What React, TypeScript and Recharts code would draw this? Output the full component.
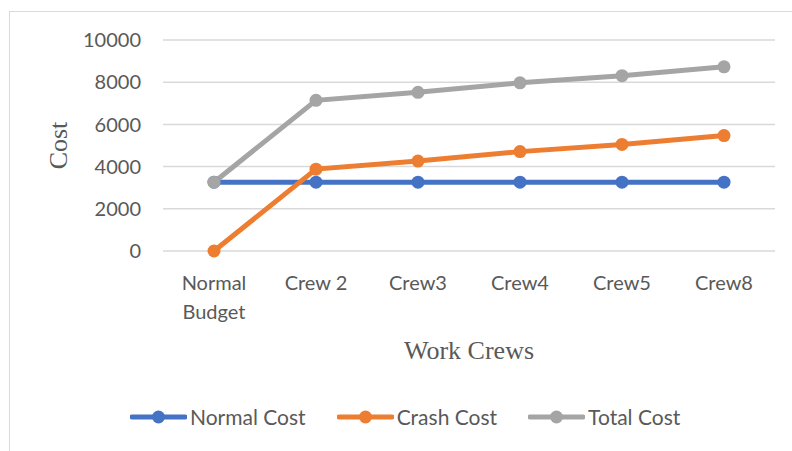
import { CartesianGrid, Label, Legend, Line, LineChart, XAxis, YAxis } from 'recharts';

const CATEGORIES = ['Normal\nBudget', 'Crew 2', 'Crew3', 'Crew4', 'Crew5', 'Crew8'];
const NORMAL_COST = [3260, 3260, 3260, 3260, 3260, 3260];
const CRASH_COST = [0, 3880, 4260, 4710, 5050, 5470];
const TOTAL_COST = [3260, 7140, 7520, 7970, 8310, 8730];
const Y_TICKS = [0, 2000, 4000, 6000, 8000, 10000];

const SERIES = [
  { key: 'normal', name: 'Normal Cost', color: '#4472C4' },
  { key: 'crash', name: 'Crash Cost', color: '#ED7D31' },
  { key: 'total', name: 'Total Cost', color: '#A5A5A5' },
];

const data = CATEGORIES.map((name, i) => ({
  name,
  normal: NORMAL_COST[i],
  crash: CRASH_COST[i],
  total: TOTAL_COST[i],
}));

const TEXT_COLOR = '#595959';
const GRID_COLOR = '#d9d9d9';
const SANS = 'Lato, "Open Sans", sans-serif';
const SERIF = '"Liberation Serif", "DejaVu Serif", serif';

function CategoryTick({ x, y, payload }: { x: number; y: number; payload: { value: string } }) {
  const lines = String(payload.value).split('\n');
  return (
    <text x={x} y={y} textAnchor="middle" fill={TEXT_COLOR} fontSize={20} fontFamily={SANS}>
      {lines.map((line, i) => (
        <tspan key={line} x={x} dy={i === 0 ? 39 : 29}>
          {line}
        </tspan>
      ))}
    </text>
  );
}

function LegendContent() {
  return (
    <div style={{ display: 'flex', alignItems: 'center', gap: 31, fontFamily: SANS, fontSize: 21, color: TEXT_COLOR }}>
      {SERIES.map((s) => (
        <div key={s.key} style={{ display: 'flex', alignItems: 'center' }}>
          <svg width={57} height={16}>
            <line x1={2} y1={8} x2={55} y2={8} stroke={s.color} strokeWidth={5} strokeLinecap="round" />
            <circle cx={28.5} cy={8} r={6.5} fill={s.color} />
          </svg>
          <span style={{ marginLeft: 3 }}>{s.name}</span>
        </div>
      ))}
    </div>
  );
}

export default function App() {
  return (
    <div style={{ position: 'absolute', left: 0, top: 0, width: 792, height: 451, overflow: 'hidden', background: '#fff' }}>
      <div
        style={{
          position: 'absolute',
          left: 9,
          top: 11,
          width: 820,
          height: 480,
          border: `1.5px solid ${GRID_COLOR}`,
        }}
      />
      <div style={{ position: 'absolute', left: 0, top: 0 }}>
        <LineChart width={792} height={451} data={data} margin={{ top: 40, right: 17, left: 0, bottom: 55 }}>
          <CartesianGrid vertical={false} stroke={GRID_COLOR} strokeWidth={1.5} />
          <XAxis
            dataKey="name"
            axisLine={false}
            tickLine={false}
            tickSize={0}
            tickMargin={0}
            padding={{ left: 51, right: 51 }}
            height={120}
            interval={0}
            tick={CategoryTick as never}
          >
            <Label
              content={({ viewBox }: { viewBox?: { x: number; y: number; width: number } }) =>
                viewBox ? (
                  <text
                    x={viewBox.x + viewBox.width / 2}
                    y={viewBox.y + 108}
                    textAnchor="middle"
                    fill={TEXT_COLOR}
                    fontSize={26}
                    fontFamily={SERIF}
                  >
                    Work Crews
                  </text>
                ) : null
              }
            />
          </XAxis>
          <YAxis
            width={163}
            domain={[0, 10000]}
            ticks={Y_TICKS}
            axisLine={false}
            tickLine={false}
            tickSize={0}
            tickMargin={22}
            tick={{ fill: TEXT_COLOR, fontSize: 20, fontFamily: SANS }}
          >
            <Label
              content={({ viewBox }: { viewBox?: { x: number; y: number; height: number } }) => {
                if (!viewBox) return null;
                const cx = viewBox.x + 58;
                const cy = viewBox.y + viewBox.height / 2;
                return (
                  <text
                    x={cx}
                    y={cy}
                    transform={`rotate(-90 ${cx} ${cy})`}
                    textAnchor="middle"
                    dominantBaseline="central"
                    fill={TEXT_COLOR}
                    fontSize={26}
                    fontFamily={SERIF}
                  >
                    Cost
                  </text>
                );
              }}
            />
          </YAxis>
          <Legend
            content={LegendContent}
            wrapperStyle={{ position: 'absolute', left: 130, top: 404, width: 'auto' }}
          />
          {SERIES.map((s) => (
            <Line
              key={s.key}
              type="linear"
              dataKey={s.key}
              name={s.name}
              stroke={s.color}
              strokeWidth={5}
              dot={{ r: 6.5, fill: s.color, stroke: s.color, strokeWidth: 0 }}
              activeDot={false}
              isAnimationActive={false}
            />
          ))}
        </LineChart>
      </div>
    </div>
  );
}
